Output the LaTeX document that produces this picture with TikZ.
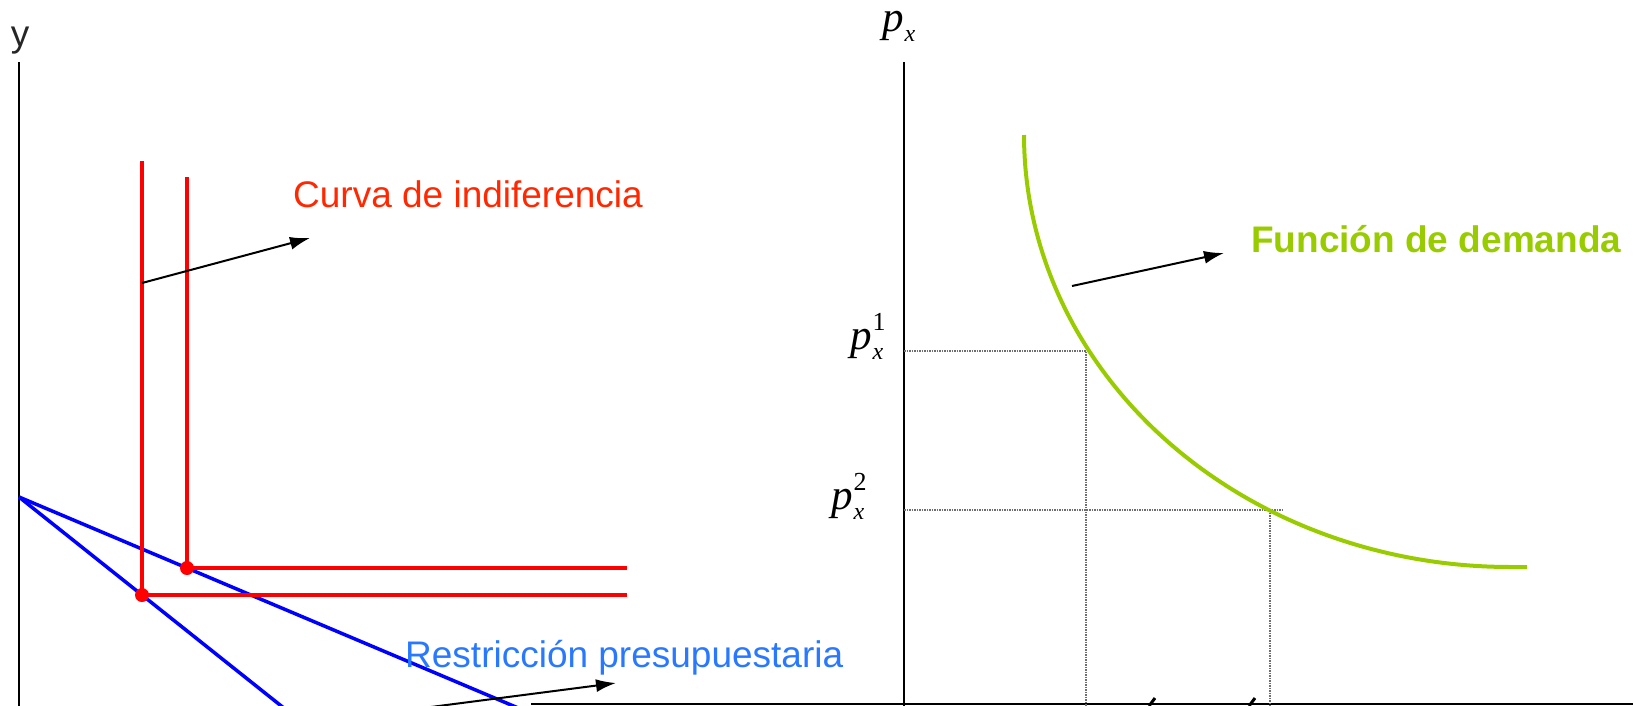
\documentclass[tikz,border=0pt]{standalone}
\usepackage{fontspec}
\setmainfont{Liberation Sans}
\newfontfamily\tms{Liberation Serif}
\usetikzlibrary{arrows.meta,calc}
\definecolor{indred}{RGB}{255,0,0}
\definecolor{labred}{RGB}{255,40,0}
\definecolor{budblue}{RGB}{0,0,255}
\definecolor{labblue}{RGB}{41,121,255}
\definecolor{demgreen}{RGB}{153,204,0}
\definecolor{dotgray}{RGB}{110,110,110}
\newcommand{\plab}[1]{{\tms\itshape\fontsize{43}{43}\selectfont p\kern1pt\rlap{\raisebox{19pt}{\upshape\fontsize{26}{26}\selectfont #1}}\raisebox{-10pt}{\fontsize{24}{24}\selectfont x}}}
\tikzset{
  axis/.style={line width=2pt, black},
  indif/.style={line width=3.5pt, indred},
  budget/.style={line width=3.5pt, budblue},
  demand/.style={line width=4pt, demgreen},
  guide/.style={line width=1.4pt, dotgray, dash pattern=on 1.5pt off 1pt},
  pointer/.style={line width=2pt, black, -{Latex[length=20pt,width=13pt]}},
  lab/.style={inner sep=0pt, font=\fontsize{37}{37}\selectfont},
  plabel/.style={inner sep=0pt, anchor=base west},
}
\begin{document}
\begin{tikzpicture}[x=1pt,y=-1pt]
\useasboundingbox (0,0) rectangle (1633,705);
\clip (0,0) rectangle (1633,705);
% axes
\draw[axis] (19,62) -- (19,706);
\draw[axis] (904,62) -- (904,706);
\draw[axis] (531,704) -- (1640,704);
\node[lab, anchor=base, text=black!85] (ylab) at (20,46) {y};
\node[plabel] (pxlab) at (882,31) {\plab{}};
% left panel: budget lines
\coordinate (b0) at (19,497);
\coordinate (e1) at (142,595);
\coordinate (e2) at (187,568);
\draw[budget] (b0) -- ($(b0)!2.3!(e1)$);
\draw[budget] (b0) -- ($(b0)!3.15!(e2)$);
% indifference curves
\draw[indif] (142,161) -- (e1) -- (627,595);
\draw[indif] (187,177) -- (e2) -- (627,568);
\fill[indred] (e1) circle (7);
\fill[indred] (e2) circle (7);
% labels left
\node[lab, anchor=base west, text=labred] (curva) at (293,207) {Curva de indiferencia};
\coordinate (a1s) at (142,283);
\coordinate (a1e) at (310,238);
\draw[pointer] (a1s) -- (a1e);
\node[lab, anchor=base west, text=labblue] (restr) at (405,667) {Restricción presupuestaria};
\coordinate (a2s) at (400,711);
\coordinate (a2e) at (616,683);
\draw[pointer] (a2s) -- (a2e);
% right panel
\node[plabel] (p1) at (850,349) {\plab{1}};
\node[plabel] (p2) at (831,509) {\plab{2}};
\coordinate (q1) at (1086,351);
\coordinate (q2) at (1270,510);
\draw[guide] (904,351) -- (q1) -- (1086,706);
\draw[guide] (904,510) -- (1283,510);
\draw[guide] (q2) -- (1270,706);
\draw[demand, line cap=butt] plot[domain=0:90, samples=70, smooth] ({1510-486*cos(\x)}, {135+432*sin(\x)}) -- (1527,567);
\node[lab, anchor=base west, text=demgreen, font=\fontsize{37}{37}\selectfont\bfseries] (func) at (1251,252) {Función de demanda};
\coordinate (a3s) at (1072,286);
\coordinate (a3e) at (1224,253);
\draw[pointer] (a3s) -- (a3e);
% cut-off marks at the bottom
\draw[line width=3pt, black] (1149,706) -- (1155,698);
\draw[line width=3pt, black] (1249,706) -- (1255,698);
\end{tikzpicture}
\end{document}
